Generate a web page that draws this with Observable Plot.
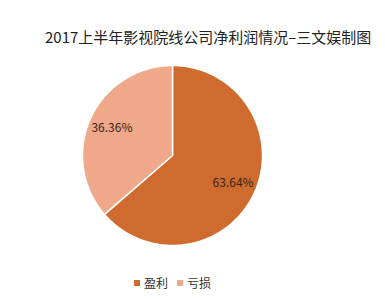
<!DOCTYPE html>
<html>
<head>
<meta charset="utf-8">
<script src="https://cdn.jsdelivr.net/npm/d3@7"></script>
<script src="https://cdn.jsdelivr.net/npm/@observablehq/plot@0.6"></script>
<style>
  body { margin: 0; background: #fff; }
  #chart { position: relative; width: 385px; height: 300px; overflow: hidden;
           font-family: "Noto Sans CJK SC", "Noto Sans", sans-serif; color: #222; }
  #title { position: absolute; left: 45px; top: 27px; font-size: 15px; line-height: 20px; white-space: nowrap; }
  #plot { position: absolute; left: 0; top: 60px; }
  #legend { position: absolute; left: 134px; top: 274px; display: flex; align-items: center;
            font-size: 12px; line-height: 18px; color: #333; }
  .sw { display: inline-block; width: 6px; height: 6px; margin-right: 4px; }
  .item { display: flex; align-items: center; margin-right: 9px; }
</style>
</head>
<body>
<div id="chart">
  <div id="title">2017上半年影视院线公司净利润情况–三文娱制图</div>
  <div id="plot"></div>
  <div id="legend"></div>
</div>
<script>
// Share of film & cinema companies with profit vs. loss, H1 2017
const categories = ["盈利", "亏损"];
const shares = [63.64, 36.36];
const sliceColors = ["#CF6B2E", "#EFA88A"];

// Pie geometry in unit-radius coordinates (clockwise from 12 o'clock)
const arcs = d3.pie().sort(null)(shares);
const slicePoints = [];
arcs.forEach((a, i) => {
  const cat = categories[i];
  slicePoints.push({cat, x: 0, y: 0});
  const n = Math.max(2, Math.ceil((a.endAngle - a.startAngle) / 0.02));
  for (let k = 0; k <= n; k++) {
    const t = a.startAngle + (a.endAngle - a.startAngle) * k / n;
    slicePoints.push({cat, x: Math.sin(t), y: Math.cos(t)});
  }
  slicePoints.push({cat, x: 0, y: 0});
});

const labels = arcs.map((a, i) => {
  const m = (a.startAngle + a.endAngle) / 2;
  return {x: 0.74 * Math.sin(m), y: 0.74 * Math.cos(m), text: shares[i].toFixed(2) + "%"};
});

const R = 90, cx = 172, cy = 95, W = 385, H = 200;
const chart = Plot.plot({
  width: W,
  height: H,
  margin: 0,
  x: {domain: [-cx / R, (W - cx) / R], axis: null},
  y: {domain: [-(H - cy) / R, cy / R], axis: null},
  color: {domain: categories, range: sliceColors},
  marks: [
    Plot.line(slicePoints, {x: "x", y: "y", z: "cat", fill: "cat", stroke: "white", strokeWidth: 1.5, curve: "linear"}),
    Plot.text(labels, {x: "x", y: "y", text: "text", fill: "#3a2416", fontSize: 12,
                       fontFamily: "Noto Sans CJK SC, Noto Sans, sans-serif"})
  ]
});
document.getElementById("plot").appendChild(chart);

const legend = document.getElementById("legend");
categories.forEach((c, i) => {
  const item = document.createElement("span");
  item.className = "item";
  const sw = document.createElement("span");
  sw.className = "sw";
  sw.style.background = sliceColors[i];
  item.appendChild(sw);
  item.appendChild(document.createTextNode(c));
  legend.appendChild(item);
});
</script>
</body>
</html>
